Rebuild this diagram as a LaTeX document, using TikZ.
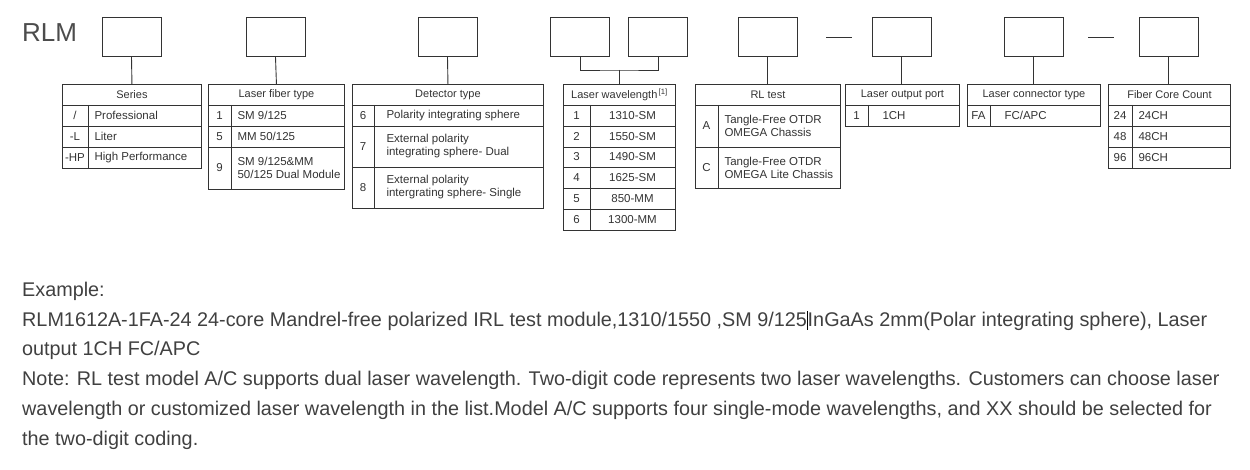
\documentclass[tikz,border=0pt]{standalone}
\usepackage{fontspec}
\setmainfont{Liberation Sans}
\begin{document}
\begin{tikzpicture}[x=1pt,y=-1pt,
  ln/.style={draw=black!80,line width=0.9pt},
  bx/.style={ln,minimum width=59pt,minimum height=39.5pt,inner sep=0pt},
  hd/.style={font=\fontsize{11}{12}\selectfont,text=black!80},
  tx/.style={font=\fontsize{11.5}{13}\selectfont,text=black!80,align=left},
  body/.style={font=\fontsize{19.8}{22}\selectfont,text=black!75,anchor=west,inner sep=0pt}]
\useasboundingbox (0,0) rectangle (1250,470);
\newcommand\trow[7]{\draw[ln] (#1,#4) rectangle (#3,#5); \draw[ln] (#2,#4) -- (#2,#5);
  \node[tx,anchor=center] at ({(#1+#2)/2},{(#4+#5)/2}) {#6};
  \node[tx,anchor=west] at ({#2+3},{(#4+#5)/2}) {#7};}
\newcommand\crow[7]{\draw[ln] (#1,#4) rectangle (#3,#5); \draw[ln] (#2,#4) -- (#2,#5);
  \node[tx,anchor=center] at ({(#1+#2)/2},{(#4+#5)/2}) {#6};
  \node[tx,anchor=center] at ({(#2+#3)/2},{(#4+#5)/2}) {#7};}
\newcommand\thead[5]{\node[ln,hd,minimum width={#3-#2},minimum height=21pt,inner sep=0pt,anchor=north west] (#1) at (#2,#4) {#5};}

\node[font=\fontsize{26}{28}\selectfont,text=black!70,anchor=west,inner sep=0pt] (rlm) at (22,33) {RLM};

\node[bx] (b1) at (131.5,37) {};
\node[bx] (b2) at (275.5,37) {};
\node[bx] (b3) at (447.5,37) {};
\node[bx] (b4a) at (580,37) {};
\node[bx] (b4b) at (658,37) {};
\node[bx] (b5) at (767.5,37) {};
\node[bx] (b6) at (901.5,37) {};
\node[bx] (b7) at (1033.5,37) {};
\node[bx] (b8) at (1168.5,37) {};
\coordinate (d1a) at (826,37); \coordinate (d1b) at (852,37);
\coordinate (d2a) at (1088,37); \coordinate (d2b) at (1114,37);
\draw[ln] (d1a) -- (d1b);
\draw[ln] (d2a) -- (d2b);

\thead{t1}{62}{201}{84}{Series}
\trow{62}{88}{201}{105}{126}{/}{Professional}
\trow{62}{88}{201}{126}{147}{-L}{Liter}
\trow{62}{88}{201}{147}{168}{-HP}{High Performance}
\thead{t2}{208}{344}{84}{Laser fiber type}
\trow{208}{231}{344}{105}{126}{1}{SM 9/125}
\trow{208}{231}{344}{126}{147}{5}{MM 50/125}
\trow{208}{231}{344}{147}{189}{9}{SM 9/125\&MM\\50/125 Dual Module}
\thead{t3}{352}{543}{84}{Detector type}
\trow{352}{374}{543}{105}{126}{6}{\hspace{6pt}Polarity integrating sphere}
\trow{352}{374}{543}{126}{167}{7}{\hspace{6pt}External polarity\\\hspace{6pt}integrating sphere- Dual}
\trow{352}{374}{543}{167}{208}{8}{\hspace{6pt}External polarity\\\hspace{6pt}intergrating sphere- Single}
\thead{t4}{563}{675}{84}{Laser wavelength\textsuperscript{\,[1]}}
\crow{563}{590}{675}{105}{126}{1}{1310-SM}
\crow{563}{590}{675}{126}{147}{2}{1550-SM}
\crow{563}{590}{675}{147}{167}{3}{1490-SM}
\crow{563}{590}{675}{167}{188}{4}{1625-SM}
\crow{563}{590}{675}{188}{209}{5}{850-MM}
\crow{563}{590}{675}{209}{230}{6}{1300-MM}
\thead{t5}{695}{840}{84}{RL test}
\trow{695}{718}{840}{105}{147}{A}{Tangle-Free OTDR\\OMEGA Chassis}
\trow{695}{718}{840}{147}{188}{C}{Tangle-Free OTDR\\OMEGA Lite Chassis}
\thead{t6}{845}{959}{84}{Laser output port}
\trow{845}{868}{959}{105}{126}{1}{\hspace{8pt}1CH}
\thead{t7}{967}{1100}{84}{Laser connector type}
\trow{967}{990}{1100}{105}{126}{FA}{\hspace{8pt}FC/APC}
\thead{t8}{1108}{1230}{84}{Fiber Core Count}
\trow{1108}{1132}{1230}{105}{126}{24}{24CH}
\trow{1108}{1132}{1230}{126}{147}{48}{48CH}
\trow{1108}{1132}{1230}{147}{168}{96}{96CH}

\draw[ln] (b1.south) -- (t1.north);
\draw[ln] (b2.south) -- (t2.north);
\draw[ln] (b3.south) -- (t3.north);
\coordinate (br) at (619,70);
\draw[ln] (b4a.south) |- (br) -| (b4b.south);
\draw[ln] (br) -- (br |- t4.north);
\draw[ln] (b5.south) -- (b5 |- t5.north);
\draw[ln] (b6.south) -- (b6 |- t6.north);
\draw[ln] (b7.south) -- (b7 |- t7.north);
\draw[ln] (b8.south) -- (b8 |- t8.north);

\node[body] (e0) at (22,291) {Example:};
\node[body] (e1) at (22,321) {RLM1612A-1FA-24 24-core Mandrel-free polarized IRL test module,1310/1550 ,SM 9/125{\color{black}\rule[-3pt]{0.8pt}{19pt}}InGaAs 2mm(Polar integrating sphere), Laser};
\node[body] (e2) at (22,350) {output 1CH FC/APC};
\node[body] (e3) at (22,380) {Note: RL test model A/C supports dual laser wavelength. Two-digit code represents two laser wavelengths. Customers can choose laser};
\node[body] (e4) at (22,410) {wavelength or customized laser wavelength in the list.Model A/C supports four single-mode wavelengths, and XX should be selected for};
\node[body] (e5) at (22,440) {the two-digit coding.};
\end{tikzpicture}
\end{document}
